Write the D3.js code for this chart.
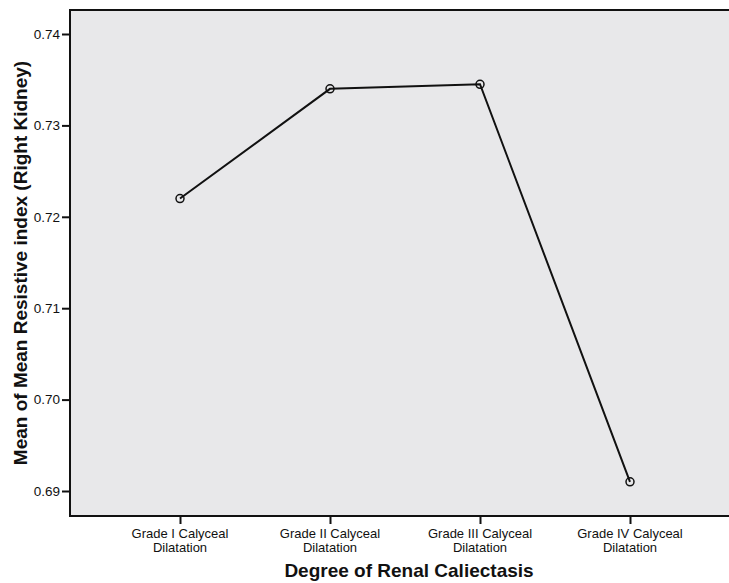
<!DOCTYPE html>
<html>
<head>
<meta charset="utf-8">
<script src="https://cdn.jsdelivr.net/npm/d3@7/dist/d3.min.js"></script>
<style>
  html, body { margin: 0; padding: 0; background: #ffffff; }
  svg { display: block; }
</style>
</head>
<body>
<svg id="chart" width="729" height="583"></svg>
<script>
const categories = ["Grade I Calyceal Dilatation", "Grade II Calyceal Dilatation", "Grade III Calyceal Dilatation", "Grade IV Calyceal Dilatation"];
const categoryLines = [["Grade I Calyceal", "Dilatation"], ["Grade II Calyceal", "Dilatation"], ["Grade III Calyceal", "Dilatation"], ["Grade IV Calyceal", "Dilatation"]];
const meanRI = [0.7220, 0.7340, 0.7345, 0.6910];
const yTicks = [0.69, 0.70, 0.71, 0.72, 0.73, 0.74];
const xTitle = "Degree of Renal Caliectasis";
const yTitle = "Mean of Mean Resistive index (Right Kidney)";

const svg = d3.select("#chart");
const plot = { left: 70, top: 10, right: 740, bottom: 516 };

const x = d3.scalePoint().domain(categories).range([180, 630]);
const y = d3.scaleLinear().domain([0.69, 0.74]).range([491, 34]);

// plot background
svg.append("rect")
  .attr("x", plot.left).attr("y", plot.top)
  .attr("width", plot.right - plot.left).attr("height", plot.bottom - plot.top)
  .attr("fill", "#e8e8ea");

// frame
svg.append("line").attr("x1", plot.left - 1).attr("x2", plot.right).attr("y1", plot.top).attr("y2", plot.top)
  .attr("stroke", "#111").attr("stroke-width", 2);

// y axis
const yAxis = svg.append("g").attr("transform", `translate(${plot.left},0)`)
  .call(d3.axisLeft(y).tickValues(yTicks).tickFormat(d3.format(".2f")).tickSize(8).tickPadding(2));
yAxis.select(".domain").remove();
yAxis.selectAll(".tick line").attr("stroke", "#111").attr("stroke-width", 2);
yAxis.selectAll(".tick text").attr("font-family", "Arial, 'Liberation Sans', sans-serif")
  .attr("font-size", 13.5).attr("fill", "#111");
svg.append("line").attr("x1", plot.left).attr("x2", plot.left).attr("y1", plot.top - 1).attr("y2", plot.bottom + 1)
  .attr("stroke", "#111").attr("stroke-width", 2);

// x axis
const xAxis = svg.append("g").attr("transform", `translate(0,${plot.bottom})`)
  .call(d3.axisBottom(x).tickSize(8).tickFormat(""));
xAxis.select(".domain").remove();
xAxis.selectAll(".tick line").attr("stroke", "#111").attr("stroke-width", 2);
xAxis.selectAll(".tick text").remove();
svg.append("line").attr("x1", plot.left - 1).attr("x2", plot.right).attr("y1", plot.bottom).attr("y2", plot.bottom)
  .attr("stroke", "#111").attr("stroke-width", 2);

const xLabG = svg.append("g")
  .attr("font-family", "Arial, 'Liberation Sans', sans-serif")
  .attr("font-size", 13).attr("fill", "#111").attr("text-anchor", "middle");
categories.forEach((c, i) => {
  categoryLines[i].forEach((ln, j) => {
    xLabG.append("text").attr("x", x(c)).attr("y", 537.5 + j * 14).text(ln);
  });
});

// line + markers
const pts = categories.map((c, i) => ({ c, v: meanRI[i] }));
svg.append("path").datum(pts)
  .attr("d", d3.line().x(d => x(d.c)).y(d => y(d.v)))
  .attr("fill", "none").attr("stroke", "#111").attr("stroke-width", 2);
svg.append("g").selectAll("circle").data(pts).join("circle")
  .attr("cx", d => x(d.c)).attr("cy", d => y(d.v)).attr("r", 4)
  .attr("fill", "none").attr("stroke", "#111").attr("stroke-width", 1.5);

// titles
svg.append("text").attr("x", 409).attr("y", 577).attr("text-anchor", "middle")
  .attr("font-family", "Arial, 'Liberation Sans', sans-serif").attr("font-weight", "bold")
  .attr("font-size", 19).attr("fill", "#111").text(xTitle);
svg.append("text").attr("transform", "translate(27,263) rotate(-90)").attr("text-anchor", "middle")
  .attr("font-family", "Arial, 'Liberation Sans', sans-serif").attr("font-weight", "bold")
  .attr("font-size", 19).attr("fill", "#111").text(yTitle);
</script>
</body>
</html>
